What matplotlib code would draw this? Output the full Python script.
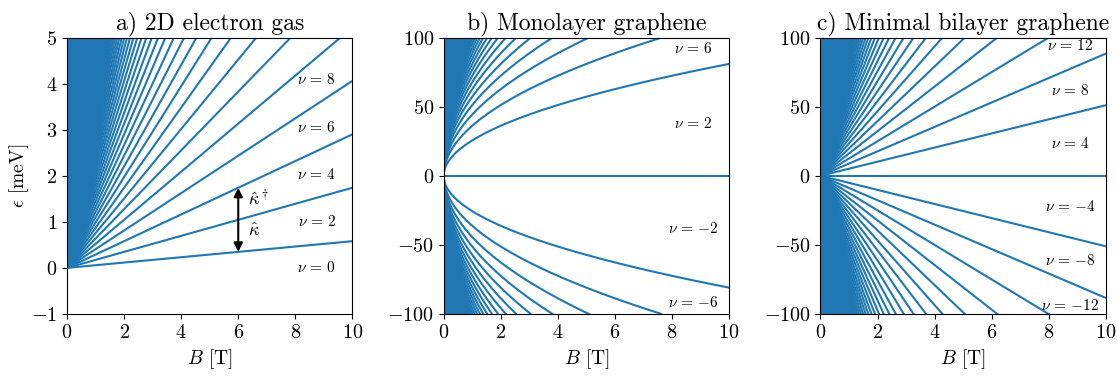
import numpy as np
import matplotlib
matplotlib.use("Agg")
import matplotlib.pyplot as plt
from matplotlib.collections import LineCollection

plt.rcParams['font.family'] = 'serif'
plt.rcParams['font.serif'] = ['cmr10']
plt.rcParams['mathtext.fontset'] = 'cm'
plt.rcParams['axes.formatter.use_mathtext'] = True

# ---- data ----
B_range = [0.0, 10.0]                  # magnetic field [T]
n_levels = 3000                         # number of Landau levels drawn
hw_2deg = 0.116                         # 2DEG cyclotron energy per tesla [meV/T]
v_mono = 25.6                           # monolayer coefficient [meV/sqrt(T)]
hw_bilayer = 3.61                       # bilayer cyclotron energy per tesla [meV/T]

titles = ["a) 2D electron gas", "b) Monolayer graphene", "c) Minimal bilayer graphene"]
ylims = [(-1, 5), (-100, 100), (-100, 100)]
yticks = [[-1, 0, 1, 2, 3, 4, 5], [-100, -50, 0, 50, 100], [-100, -50, 0, 50, 100]]

nu_a = ["0", "2", "4", "6", "8"]
nu_a_y = [0.0, 1.0, 2.03, 3.05, 4.08]
nu_b = ["6", "2", "-2", "-6"]
nu_b_y = [92, 38, -38, -92]
nu_c = ["12", "8", "4", "-4", "-8", "-12"]
nu_c_y = [94, 62, 23, -22, -61, -94]
nu_x = 8.75

color = "#1f77b4"
LW = 1.5

fig, axes = plt.subplots(1, 3, figsize=(11.17, 3.76), dpi=100)
fig.subplots_adjust(left=0.06, right=0.99, top=0.9, bottom=0.165, wspace=0.32)

B = np.concatenate([[0.0], np.logspace(-6, 1, 1500)])
Bend = np.array(B_range)
n = np.arange(n_levels)


def add_lines(ax, curves):
    lc = LineCollection(curves, colors=color, linewidths=LW, capstyle="butt")
    ax.add_collection(lc)


def nu_text(ax, y, lab):
    if lab.startswith("-"):
        s = r"$\nu$ = $-%s$" % lab[1:]
    else:
        s = r"$\nu$ = %s" % lab
    ax.text(nu_x, y, s, ha="center", va="center", fontsize=11)


# a) 2DEG
ax = axes[0]
curves = [np.column_stack([Bend, hw_2deg * Bend * (k + 0.5)]) for k in n]
add_lines(ax, curves)
for lab, y in zip(nu_a, nu_a_y):
    nu_text(ax, y, lab)
Ba = 6.0
ax.annotate("", xy=(Ba, hw_2deg * Ba * 2.5), xytext=(Ba, hw_2deg * Ba * 0.5),
            arrowprops=dict(arrowstyle="<|-|>", color="black", lw=1.5,
                            mutation_scale=13, shrinkA=0, shrinkB=0))
ax.text(6.35, 1.52, r"$\hat{\kappa}^\dagger$", fontsize=13, va="center")
ax.text(6.35, 0.82, r"$\hat{\kappa}$", fontsize=13, va="center")
ax.set_ylabel(r"$\epsilon$ [meV]", fontsize=14, labelpad=0)

# b) monolayer
ax = axes[1]
curves = [np.column_stack([Bend, 0 * Bend])]
for k in n[1:]:
    e = v_mono * np.sqrt(k * B)
    m = np.searchsorted(e, 100.0) + 1
    curves.append(np.column_stack([B[:m], e[:m]]))
    curves.append(np.column_stack([B[:m], -e[:m]]))
add_lines(ax, curves)
for lab, y in zip(nu_b, nu_b_y):
    nu_text(ax, y, lab)

# c) bilayer
ax = axes[2]
curves = [np.column_stack([Bend, 0 * Bend])]
for k in n[2:]:
    e = hw_bilayer * Bend * np.sqrt(k * (k - 1))
    curves.append(np.column_stack([Bend, e]))
    curves.append(np.column_stack([Bend, -e]))
add_lines(ax, curves)
for lab, y in zip(nu_c, nu_c_y):
    nu_text(ax, y, lab)

for ax, t, yl, yt in zip(axes, titles, ylims, yticks):
    ax.set_xlim(*B_range)
    ax.set_ylim(*yl)
    ax.set_yticks(yt)
    ax.set_xticks([0, 2, 4, 6, 8, 10])
    ax.set_title(t, fontsize=17)
    ax.set_xlabel(r"$B$ [T]", fontsize=14)
    ax.tick_params(labelsize=14.5)

fig.savefig("out.png", dpi=100)
